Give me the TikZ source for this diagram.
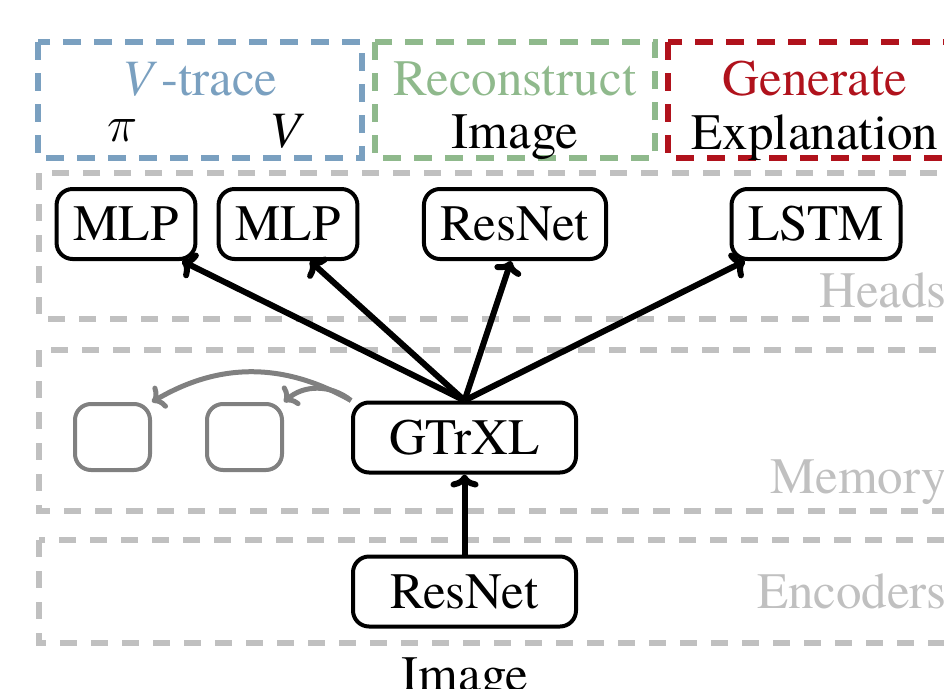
\RequirePackage{fix-cm}
\documentclass[tikz,border=0pt]{standalone}
\usepackage{fontspec}
\setmainfont{texgyretermes-regular.otf}[ItalicFont=texgyretermes-italic.otf]
\usetikzlibrary{arrows.meta}
\definecolor{vblue}{RGB}{122,160,192}
\definecolor{rgreen}{RGB}{143,185,140}
\definecolor{gred}{RGB}{176,18,28}
\definecolor{dashgray}{RGB}{192,192,192}
\definecolor{memgray}{RGB}{128,128,128}
\definecolor{labgray}{RGB}{192,192,192}
\begin{document}
\begin{tikzpicture}[x=1pt,y=-1pt,
  font=\fontsize{51}{61}\selectfont,
  block/.style={draw=black, line width=4pt, rounded corners=16pt, minimum height=70pt, inner xsep=17pt, inner ysep=0pt},
  ghost/.style={draw=memgray, line width=4pt, rounded corners=16pt, minimum width=75pt, minimum height=66pt, inner sep=0pt},
  layer/.style={draw=dashgray, line width=5.5pt, dash pattern=on 17pt off 14pt},
  taskbox/.style={line width=5.5pt, dash pattern=on 18pt off 13pt},
  conn/.style={draw=black, line width=6pt, -{To[length=13pt,width=28pt]}},
  mem/.style={draw=memgray, line width=5pt, -{To[length=12pt,width=26pt]}},
  lab/.style={text=labgray, anchor=base east, inner sep=0pt},
  txt/.style={anchor=base, inner sep=0pt}]
\useasboundingbox (0,0) rectangle (944,688);

% task boxes
\draw[taskbox, draw=vblue] (38,42) rectangle (362,158);
\draw[taskbox, draw=rgreen] (375,42) rectangle (655,158);
\draw[taskbox, draw=gred] (668,42) rectangle (962,158);

% layer boxes
\draw[layer] (39,173) rectangle (962,319);
\draw[layer] (39,350) rectangle (962,511);
\draw[layer] (39,540) rectangle (962,643);

% task texts
\node[txt, text=vblue] (vt) at (200,95) {\textit{V}\kern4pt-trace};
\node[txt] (pi) at (123,141) {$\pi$};
\node[txt] (vv) at (287,147) {\textit{V}};
\node[txt, text=rgreen] (rc) at (515,95) {Reconstruct};
\node[txt] (im1) at (515,148) {Image};
\node[txt, text=gred] (gen) at (815,95) {Generate};
\node[txt] (ex) at (815,149) {Explanation};

% layer labels
\node[lab] (lh) at (947,307) {Heads};
\node[lab] (lm) at (947,493) {Memory};
\node[lab] (le) at (947,608) {Encoders};

% heads
\node[block] (mlp1) at (126,224) {MLP};
\node[block] (mlp2) at (288,224) {MLP};
\node[block] (rh) at (515,224) {ResNet};
\node[block] (lstm) at (816,224) {LSTM};

% memory
\node[block, minimum width=223pt] (g) at (464.5,437.5) {GTrXL};
\node[ghost] (m1) at (112.5,437) {};
\node[ghost] (m2) at (244.5,437) {};

% encoder
\node[block, minimum width=223pt] (enc) at (464.5,591.5) {ResNet};
\node[txt] (img) at (465,691) {Image};

% connectors
\draw[conn] (enc) -- (g);
\draw[conn] (g.north) -- ([xshift=56pt]mlp1.south);
\draw[conn] (g.north) -- ([xshift=22pt]mlp2.south);
\draw[conn] (g.north) -- ([xshift=-4pt]rh.south);
\draw[conn] (g.north) -- ([xshift=-71pt]lstm.south);
\draw[mem] (g.north west) to[bend right=30] (m1.north east);
\draw[mem] (g.north west) to[bend right=40] (m2.north east);
\end{tikzpicture}
\end{document}
